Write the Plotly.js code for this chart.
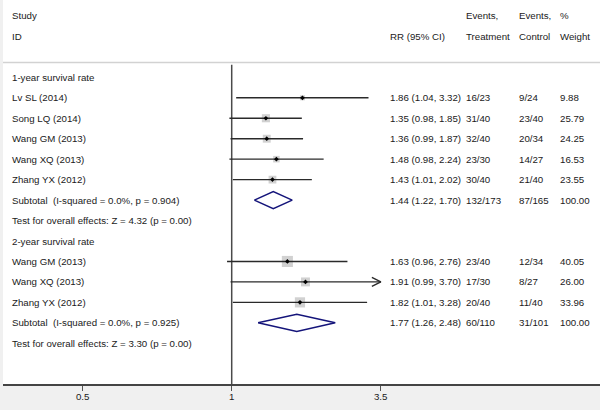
<!DOCTYPE html>
<html><head><meta charset="utf-8">
<script src="https://cdn.plot.ly/plotly-3.0.1.min.js"></script>
<style>html,body{margin:0;padding:0;background:#f0f0f0}</style>
</head><body><div id="chart" style="width:600px;height:410px"></div>
<script>
// ---------- data ----------
const headerLeft = ["Study", "ID"];
const headerRR = "RR (95% CI)";
const headerTreat = ["Events,", "Treatment"];
const headerCtrl = ["Events,", "Control"];
const headerWeight = ["%", "Weight"];

const group1Title = "1-year survival rate";
const group1Studies = ["Lv SL (2014)", "Song LQ (2014)", "Wang GM (2013)", "Wang XQ (2013)", "Zhang YX (2012)"];
const group1RR = [1.86, 1.35, 1.36, 1.48, 1.43];
const group1Lo = [1.04, 0.98, 0.99, 0.98, 1.01];
const group1Hi = [3.32, 1.85, 1.87, 2.24, 2.02];
const group1EvT = ["16/23", "31/40", "32/40", "23/30", "30/40"];
const group1EvC = ["9/24", "23/40", "20/34", "14/27", "21/40"];
const group1W = [9.88, 25.79, 24.25, 16.53, 23.55];
const group1Sub = {rr: 1.44, lo: 1.22, hi: 1.70, evT: "132/173", evC: "87/165", w: 100.00,
  label: "Subtotal\u00a0\u00a0(I-squared = 0.0%, p = 0.904)", test: "Test for overall effects: Z = 4.32 (p = 0.00)"};

const group2Title = "2-year survival rate";
const group2Studies = ["Wang GM (2013)", "Wang XQ (2013)", "Zhang YX (2012)"];
const group2RR = [1.63, 1.91, 1.82];
const group2Lo = [0.96, 0.99, 1.01];
const group2Hi = [2.76, 3.70, 3.28];
const group2EvT = ["23/40", "17/30", "20/40"];
const group2EvC = ["12/34", "8/27", "11/40"];
const group2W = [40.05, 26.00, 33.96];
const group2Sub = {rr: 1.77, lo: 1.26, hi: 2.48, evT: "60/110", evC: "31/101", w: 100.00,
  label: "Subtotal\u00a0\u00a0(I-squared = 0.0%, p = 0.925)", test: "Test for overall effects: Z = 3.30 (p = 0.00)"};

const tickVals = [1 / 3.695, 1, 3.695];
const tickText = ["0.5", "1", "3.5"];
const arrowLimit = 3.70;

// ---------- build ----------
const groups = [
  {title: group1Title, studies: group1Studies, rr: group1RR, lo: group1Lo, hi: group1Hi, evT: group1EvT, evC: group1EvC, w: group1W, sub: group1Sub, k: 1.6},
  {title: group2Title, studies: group2Studies, rr: group2RR, lo: group2Lo, hi: group2Hi, evT: group2EvT, evC: group2EvC, w: group2W, sub: group2Sub, k: 1.75}
];

const FONT = {family: "Liberation Sans, Arial, sans-serif", size: 9.7, color: "#1a1a1a"};
const L = 3, W = 597;
const px = p => (p - L) / W;
const colLabel = px(10), colRR = px(387.5), colT = px(464), colC = px(517), colW = px(558);

const annotations = [];
function txt(x, y, s) {
  annotations.push({xref: "paper", yref: "y", x: x, y: y, text: s, showarrow: false,
    xanchor: "left", yanchor: "middle", font: FONT});
}
const fmtCI = (r, a, b) => r.toFixed(2) + " (" + a.toFixed(2) + ", " + b.toFixed(2) + ")";

// header rows
txt(colLabel, -3, headerLeft[0]); txt(colLabel, -2, headerLeft[1]);
txt(colRR, -2, headerRR);
txt(colT, -3, headerTreat[0]); txt(colT, -2, headerTreat[1]);
txt(colC, -3, headerCtrl[0]); txt(colC, -2, headerCtrl[1]);
txt(colW, -3, headerWeight[0]); txt(colW, -2, headerWeight[1]);

const boxX = [], boxY = [], boxS = [];
const ptX = [], ptY = [];
const ciX = [], ciY = [];
const arrX = [], arrY = [];
const diaTraces = [];

let row = 0;
groups.forEach(g => {
  txt(colLabel, row, g.title); row++;
  g.studies.forEach((s, i) => {
    txt(colLabel, row, s);
    txt(colRR, row, fmtCI(g.rr[i], g.lo[i], g.hi[i]));
    txt(colT, row, g.evT[i]);
    txt(colC, row, g.evC[i]);
    txt(colW, row, g.w[i].toFixed(2));
    boxX.push(g.rr[i]); boxY.push(row); boxS.push(g.k * Math.sqrt(g.w[i]));
    ptX.push(g.rr[i]); ptY.push(row);
    ciX.push(g.lo[i], g.hi[i], null); ciY.push(row, row, null);
    if (g.hi[i] >= arrowLimit) {
      const back = Math.exp(-9 / 114);
      arrX.push(g.hi[i] * back, g.hi[i], g.hi[i] * back, null);
      arrY.push(row - 0.22, row, row + 0.22, null);
    }
    row++;
  });
  const sb = g.sub;
  txt(colLabel, row, sb.label);
  txt(colRR, row, fmtCI(sb.rr, sb.lo, sb.hi));
  txt(colT, row, sb.evT);
  txt(colC, row, sb.evC);
  txt(colW, row, sb.w.toFixed(2));
  diaTraces.push({x: [sb.lo, sb.rr, sb.hi, sb.rr, sb.lo], y: [row, row - 0.42, row, row + 0.42, row],
    mode: "lines", line: {color: "#14147a", width: 1.5}, hoverinfo: "skip", showlegend: false});
  row++;
  txt(colLabel, row, sb.test); row++;
});

const yTop = -3.78, yBot = 14.99;
const traces = [
  {x: [1, 1], y: [-0.62, yBot], mode: "lines", line: {color: "#4a4a4a", width: 1.5}, hoverinfo: "skip", showlegend: false},
  {x: boxX, y: boxY, mode: "markers", marker: {symbol: "square", size: boxS, color: "#bdbdbd", line: {width: 0}}, hoverinfo: "skip", showlegend: false},
  {x: ciX, y: ciY, mode: "lines", line: {color: "#2a2a2a", width: 1.4}, hoverinfo: "skip", showlegend: false, connectgaps: false},
  {x: arrX, y: arrY, mode: "lines", line: {color: "#2a2a2a", width: 1.4}, hoverinfo: "skip", showlegend: false, connectgaps: false},
  {x: ptX, y: ptY, mode: "markers", marker: {symbol: "diamond", size: 3.6, color: "#000"}, hoverinfo: "skip", showlegend: false},
  ...diaTraces
];

const layout = {
  width: 600, height: 410,
  margin: {l: L, r: 0, t: 0, b: 26, pad: 0},
  paper_bgcolor: "#f0f0f0", plot_bgcolor: "#ffffff",
  showlegend: false,
  xaxis: {type: "log", range: [Math.log10(Math.exp(-228.7 / 114)), Math.log10(Math.exp(368.3 / 114))],
    tickvals: tickVals, ticktext: tickText, ticks: "outside", ticklen: 5, tickwidth: 1.5, tickcolor: "#555",
    ticklabelstandoff: -2,
    showline: true, linecolor: "#444", linewidth: 1.5, showgrid: false, zeroline: false,
    tickfont: FONT, fixedrange: true},
  yaxis: {range: [yBot, yTop], visible: false, showgrid: false, zeroline: false, fixedrange: true},
  shapes: [{type: "line", xref: "paper", yref: "y", x0: 0, x1: 1, y0: -0.73, y1: -0.73, line: {color: "#d2d2d2", width: 1.5}}],
  annotations: annotations
};

Plotly.newPlot("chart", traces, layout, {displayModeBar: false, staticPlot: true});
</script>
</body></html>
